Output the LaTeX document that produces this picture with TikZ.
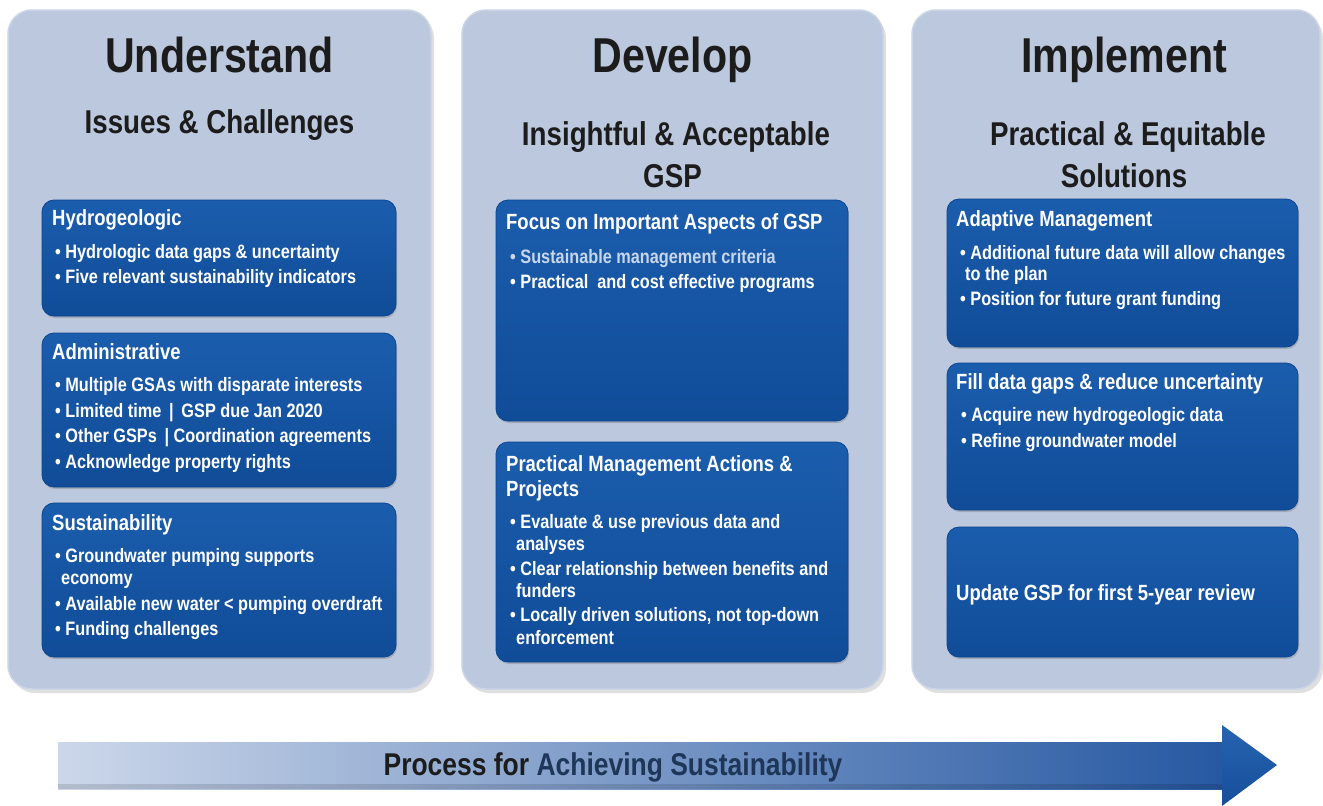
\documentclass[tikz,border=0pt]{standalone}
\usepackage{fontspec}
\setmainfont{Liberation Sans}[FakeStretch=0.84]
\usetikzlibrary{shadows}
\definecolor{panelc}{HTML}{BCC8DD}
\definecolor{paneledge}{HTML}{CBD5E6}
\definecolor{boxtop}{HTML}{1B5DAD}
\definecolor{boxbot}{HTML}{104C98}
\definecolor{boxedge}{HTML}{0D4690}
\definecolor{titlec}{HTML}{1C1C1C}
\definecolor{palec}{HTML}{C8D6EC}
\definecolor{arrowl}{HTML}{CCD7EA}
\definecolor{arrowr}{HTML}{2658A2}
\definecolor{headtop}{HTML}{2664B0}
\definecolor{headbot}{HTML}{174E9A}
\definecolor{navyc}{HTML}{1E3658}
\newcommand\bulx{\textbullet\hspace{4.5pt}}
\begin{document}
\begin{tikzpicture}[x=1pt,y=-1pt,
 panel/.style={fill=panelc, draw=paneledge, line width=1.5pt, rounded corners=24pt,
   drop shadow={shadow xshift=3pt, shadow yshift=-4pt, opacity=0.25, fill=black!50}},
 bx/.style={draw=boxedge, line width=0.8pt, rounded corners=12pt, top color=boxtop, bottom color=boxbot,
   drop shadow={shadow xshift=1pt, shadow yshift=-2pt, opacity=0.3, fill=black!60}},
 ttl/.style={anchor=base, inner sep=0pt, text=titlec, font=\fontsize{49}{55}\selectfont\bfseries},
 sub/.style={anchor=base, inner sep=0pt, text=titlec, font=\fontsize{33}{40}\selectfont\bfseries},
 hd/.style={anchor=base west, inner sep=0pt, text=white, font=\fontsize{22}{25}\selectfont\bfseries},
 ln/.style={anchor=base west, inner sep=0pt, text=white, font=\fontsize{19.4}{22}\selectfont\bfseries},
]
\useasboundingbox (0,0) rectangle (1323,806);
\fill[white] (0,0) rectangle (1323,806);

% panels
\path[panel] (8,10) rectangle (431,689);
\path[panel] (462,10) rectangle (883,689);
\path[panel] (912,10) rectangle (1320,689);

% titles
\node[ttl] (t1) at (219.5,72) {Understand};
\node[sub] (s1) at (219.5,133) {Issues \& Challenges};
\node[ttl] (t2) at (672.5,72) {Develop};
\node[sub] (s2a) at (676,145) {Insightful \& Acceptable};
\node[sub] (s2b) at (672.5,187) {GSP};
\node[ttl] (t3) at (1124,72) {Implement};
\node[sub] (s3a) at (1128,145) {Practical \& Equitable};
\node[sub] (s3b) at (1124,187) {Solutions};

% boxes
\path[bx] (42,200) rectangle (396,316);
\path[bx] (42,333) rectangle (396,487);
\path[bx] (42,503) rectangle (396,657);
\path[bx] (496,200) rectangle (848,421);
\path[bx] (496,442) rectangle (848,662);
\path[bx] (947,199) rectangle (1298,347);
\path[bx] (947,363) rectangle (1298,510);
\path[bx] (947,527) rectangle (1298,657);

% box 1
\node[hd] (h11) at (52,225) {Hydrogeologic};
\node[ln] (l11a) at (55,258) {\bulx Hydrologic data gaps \& uncertainty};
\node[ln] (l11b) at (55,283) {\bulx Five relevant sustainability indicators};
% box 2
\node[hd] (h12) at (52,359) {Administrative};
\node[ln] (l12a) at (55,391) {\bulx Multiple GSAs with disparate interests};
\node[ln] (l12b) at (55,417) {\bulx Limited time \,|\, GSP due Jan 2020};
\node[ln] (l12c) at (55,442) {\bulx Other GSPs \,| Coordination agreements};
\node[ln] (l12d) at (55,468) {\bulx Acknowledge property rights};
% box 3
\node[hd] (h13) at (52,530) {Sustainability};
\node[ln] (l13a) at (55,562) {\bulx Groundwater pumping supports};
\node[ln] (l13b) at (61,584) {economy};
\node[ln] (l13c) at (55,610) {\bulx Available new water < pumping overdraft};
\node[ln] (l13d) at (55,635) {\bulx Funding challenges};

% box 4
\node[hd] (h21) at (506,229) {Focus on Important Aspects of GSP};
\node[ln, text=palec] (l21a) at (510,263) {\bulx Sustainable management criteria};
\node[ln] (l21b) at (510,288) {\bulx Practical \ and cost effective programs};
% box 5
\node[hd] (h22a) at (506,471) {Practical Management Actions \&};
\node[hd] (h22b) at (506,496) {Projects};
\node[ln] (l22a) at (510,528) {\bulx Evaluate \& use previous data and};
\node[ln] (l22b) at (516,550) {analyses};
\node[ln] (l22c) at (510,575) {\bulx Clear relationship between benefits and};
\node[ln] (l22d) at (516,597) {funders};
\node[ln] (l22e) at (510,621) {\bulx Locally driven solutions, not top-down};
\node[ln] (l22f) at (516,644) {enforcement};

% box 6
\node[hd] (h31) at (956,226) {Adaptive Management};
\node[ln] (l31a) at (960,259) {\bulx Additional future data will allow changes};
\node[ln] (l31b) at (965,280) {to the plan};
\node[ln] (l31c) at (960,305) {\bulx Position for future grant funding};
% box 7
\node[hd] (h32) at (956,389) {Fill data gaps \& reduce uncertainty};
\node[ln] (l32a) at (961,421) {\bulx Acquire new hydrogeologic data};
\node[ln] (l32b) at (961,447) {\bulx Refine groundwater model};
% box 8
\node[hd] (h33) at (956,600) {Update GSP for first 5-year review};

% process arrow
\shade[left color=arrowl, right color=arrowr] (58,742) rectangle (1226,789);
\fill[black, opacity=0.12] (58,784) rectangle (1226,789);
\shade[top color=headtop, bottom color=headbot] (1222,725) -- (1277,765) -- (1222,806) -- cycle;
\node[inner sep=0pt, font=\fontsize{31.5}{36}\selectfont\bfseries] (proc) at (613,767)
  {\textcolor{titlec}{Process for} \textcolor{navyc}{Achieving Sustainability}};
\end{tikzpicture}
\end{document}
